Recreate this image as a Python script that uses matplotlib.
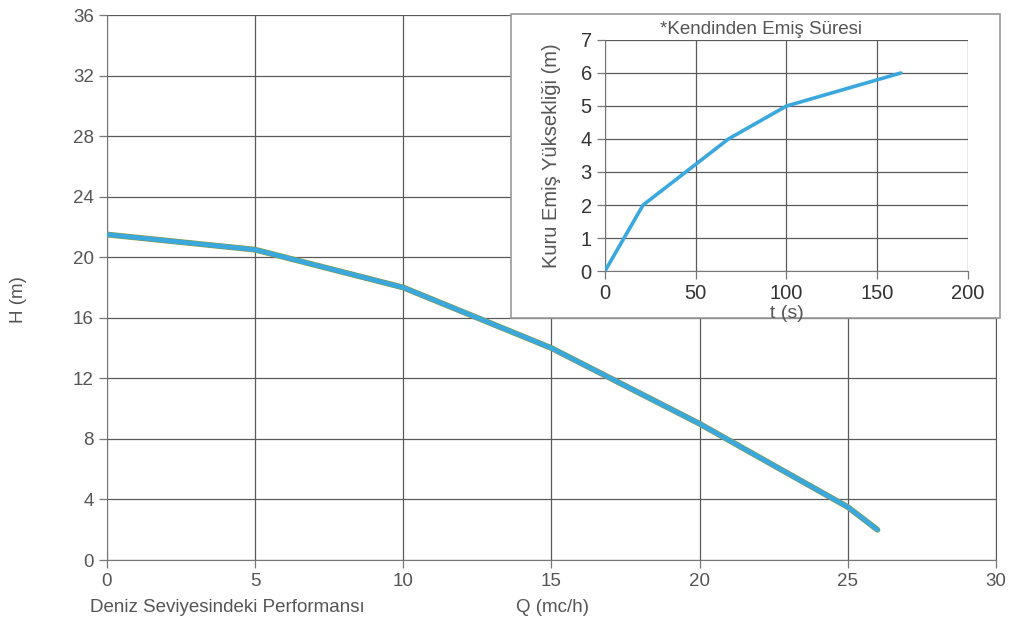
import matplotlib.pyplot as plt
from matplotlib.patches import Rectangle

# main curve: Q (mc/h) vs H (m)
q = [0, 5, 10, 15, 20, 25, 26]
h = [21.5, 20.5, 18, 14, 9, 3.5, 2]

# inset: self-priming time t (s) vs dry suction height (m)
t = [0, 21, 68, 100, 163]
hs = [0, 2, 4, 5, 6]

blue = '#3aa8dc'
edge = '#8a9a3a'
grid_c = '#5a5a5a'
txt = '#555555'

plt.rcParams['font.family'] = ['Liberation Sans', 'DejaVu Sans']

fig = plt.figure(figsize=(10.1, 6.21), dpi=100)
ax = fig.add_axes([0.1059, 0.0982, 0.8802, 0.8776])

ax.plot(q, h, color=edge, lw=4.2, solid_capstyle='round', zorder=3)
ax.plot(q, h, color=blue, lw=3.4, solid_capstyle='round', zorder=4)
ax.set_xlim(0, 30)
ax.set_ylim(0, 36)
ax.set_xticks(range(0, 31, 5))
ax.set_yticks(range(0, 37, 4))
ax.grid(True, color=grid_c, lw=0.9)
ax.spines['top'].set_visible(False)
ax.spines['right'].set_color(grid_c)
for s in ['left', 'bottom']:
    ax.spines[s].set_color('#777777')
ax.tick_params(colors='#777777', labelcolor=txt, labelsize=13.5, length=6, width=0.9, direction='out')
ax.set_axisbelow(True)

fig.text(0.018, 0.517, 'H (m)', rotation=90, ha='center', va='center', fontsize=13.5, color=txt)
fig.text(0.089, 0.022, 'Deniz Seviyesindeki Performansı', ha='left', va='center', fontsize=13.5, color=txt)
fig.text(0.547, 0.022, 'Q (mc/h)', ha='center', va='center', fontsize=13.5, color=txt)

# white frame for inset
fig.patches.append(Rectangle((0.506, 0.488), 0.484, 0.489, transform=fig.transFigure,
                             facecolor='white', edgecolor='#999999', lw=1.2, zorder=5))

ins = fig.add_axes([0.599, 0.5636, 0.3594, 0.372])
ins.set_zorder(6)
ins.plot(t, hs, color=blue, lw=2.6, solid_capstyle='round', zorder=3)
ins.set_xlim(0, 200)
ins.set_ylim(0, 7)
ins.set_xticks(range(0, 201, 50))
ins.set_yticks(range(0, 8))
ins.grid(True, color=grid_c, lw=0.9)
for s in ['top', 'right']:
    ins.spines[s].set_visible(False)
for s in ['left', 'bottom']:
    ins.spines[s].set_color('#777777')
ins.tick_params(colors='#777777', labelcolor='#333333', labelsize=14.5, length=6, width=0.9)
ins.set_axisbelow(True)
ins.text(0.43, 1.01, '*Kendinden Emiş Süresi', transform=ins.transAxes,
         ha='center', va='bottom', fontsize=13.5, color=txt)
ins.set_ylabel('Kuru Emiş Yüksekliği (m)', fontsize=14.5, color=txt, labelpad=14)
ins.set_xlabel('t (s)', fontsize=14, color=txt, labelpad=1)

fig.savefig('out.png', dpi=100)
